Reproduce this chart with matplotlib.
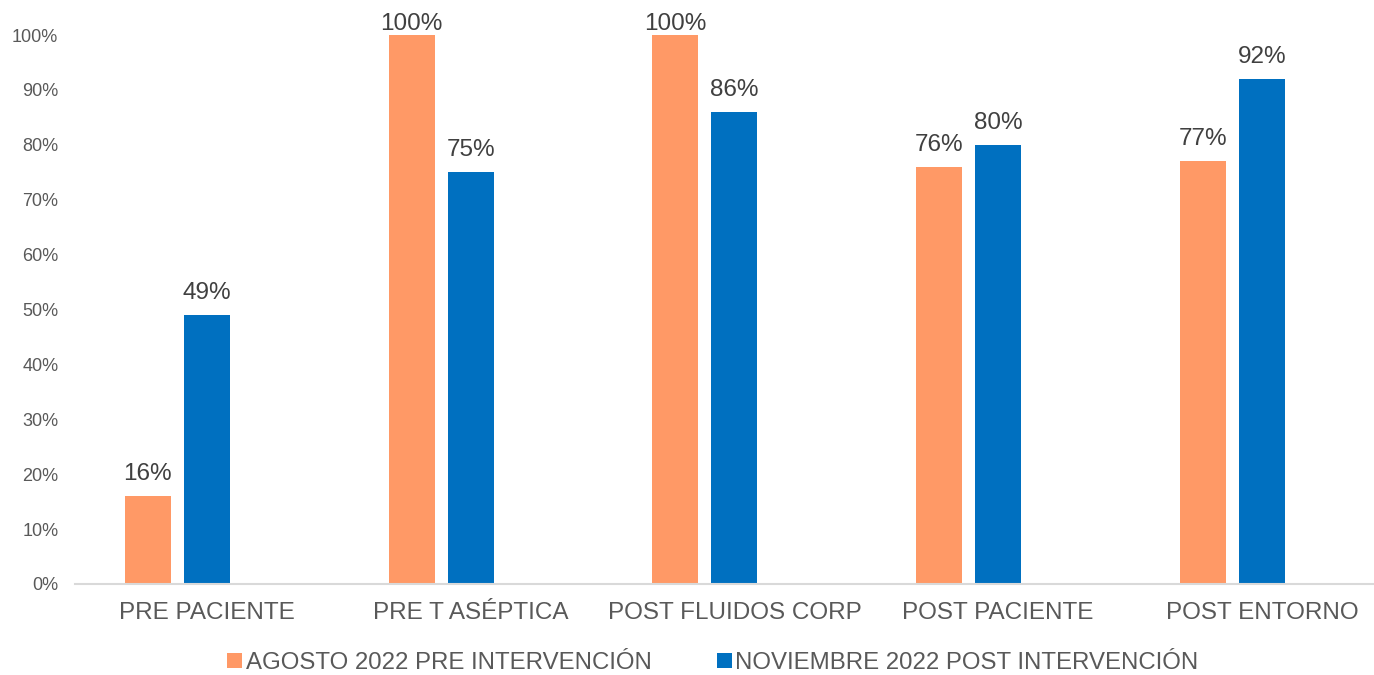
import matplotlib.pyplot as plt
import numpy as np
from matplotlib.ticker import PercentFormatter

plt.rcParams['font.family'] = ['Liberation Sans', 'DejaVu Sans']

categorias = ['PRE PACIENTE', 'PRE T ASÉPTICA', 'POST FLUIDOS CORP',
              'POST PACIENTE', 'POST ENTORNO']
agosto = [0.16, 1.00, 1.00, 0.76, 0.77]
noviembre = [0.49, 0.75, 0.86, 0.80, 0.92]
series_nombres = ['AGOSTO 2022 PRE INTERVENCIÓN', 'NOVIEMBRE 2022 POST INTERVENCIÓN']

color_ago = '#FF9966'
color_nov = '#0070C0'
gris = '#595959'

fig = plt.figure(figsize=(13.74, 6.75), dpi=100)
ax = fig.add_axes([75 / 1374, 1 - 584 / 675, 1 - 75 / 1374, (584 - 35) / 675])

x = np.arange(len(categorias))
ancho = 46 / 263.75
paso = 59 / 263.75

b1 = ax.bar(x - paso, agosto, ancho, color=color_ago, label=series_nombres[0])
b2 = ax.bar(x, noviembre, ancho, color=color_nov, label=series_nombres[1])

# etiquetas de datos (como Excel, la de 100% queda pegada al borde superior)
for barras in (b1, b2):
    for b in barras:
        h = b.get_height()
        desp = 8 if h < 0.99 else 0
        ax.annotate(f'{h:.0%}', (b.get_x() + b.get_width() / 2, h),
                    xytext=(0, desp), textcoords='offset points',
                    ha='center', va='bottom', fontsize=17.5, color='#404040',
                    annotation_clip=False)

ax.set_ylim(0, 1)
ax.set_xlim(-0.5, -0.5 + 1299 / 263.75)
ax.set_yticks(np.arange(0, 1.01, 0.1))
ax.yaxis.set_major_formatter(PercentFormatter(1.0, decimals=0))
ax.set_xticks(x)
ax.set_xticklabels(categorias)

ax.tick_params(axis='y', length=0, labelsize=13, labelcolor=gris, pad=12)
ax.tick_params(axis='x', length=0, labelsize=17.5, labelcolor=gris, pad=13)

for lado in ['top', 'right', 'left']:
    ax.spines[lado].set_visible(False)
ax.spines['bottom'].set_color('#D9D9D9')
ax.spines['bottom'].set_linewidth(1.5)

fig.legend(loc='center', bbox_to_anchor=(0.519, 1 - 663 / 675), ncol=2,
           frameon=False, fontsize=17.3, labelcolor=gris,
           handlelength=0.6, handleheight=0.6, handletextpad=0.15,
           columnspacing=2.75)

fig.savefig('out.png', dpi=100)
